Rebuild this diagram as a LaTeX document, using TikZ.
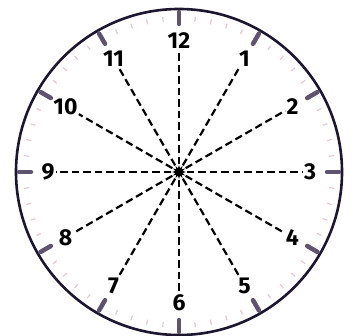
\documentclass[tikz,border=0pt]{standalone}
\usepackage{fontspec}
\setmainfont{Fira Sans}
\usetikzlibrary{shapes.geometric,calc}
\definecolor{tickc}{HTML}{5E5470}
\definecolor{minc}{HTML}{E2C8D8}
\definecolor{rimc}{HTML}{1C1630}
\begin{document}
\begin{tikzpicture}[x=1pt,y=-1pt,
  hourlabel/.style={inner sep=1pt,font=\fontsize{23}{23}\selectfont\bfseries},
  spoke/.style={line width=2.2pt,dash pattern=on 7.5pt off 4pt,black},
  hourtick/.style={line width=4.5pt,line cap=round,draw=tickc},
  minmark/.style={line width=1.2pt,draw=minc},
  rim/.style={line width=2.6pt,draw=rimc}]
\useasboundingbox (0,0) rectangle (353,336);
\coordinate (o) at (179,172);
% minute marks
\foreach \m in {0,...,59}{
  \pgfmathsetmacro{\a}{6*\m-90}
  \draw[minmark] ($(o)+(\a:151)$) -- ($(o)+(\a:156)$);
}
\draw[rim] (o) circle [radius=163];
\foreach \h in {1,...,12}{
  \pgfmathsetmacro{\a}{30*\h-90}
  \draw[hourtick] ($(o)+(\a:148)$) -- ($(o)+(\a:160)$);
}
\node[star,star points=12,star point ratio=1.8,fill=black,minimum size=14pt,inner sep=0pt] (c) at (o) {};
\foreach \h in {1,...,12}{
  \pgfmathsetmacro{\a}{30*\h-90}
  \node[hourlabel] (n\h) at ($(o)+(\a:131)$) {\h};
  \draw[spoke] (c) -- (n\h);
}
\end{tikzpicture}
\end{document}
